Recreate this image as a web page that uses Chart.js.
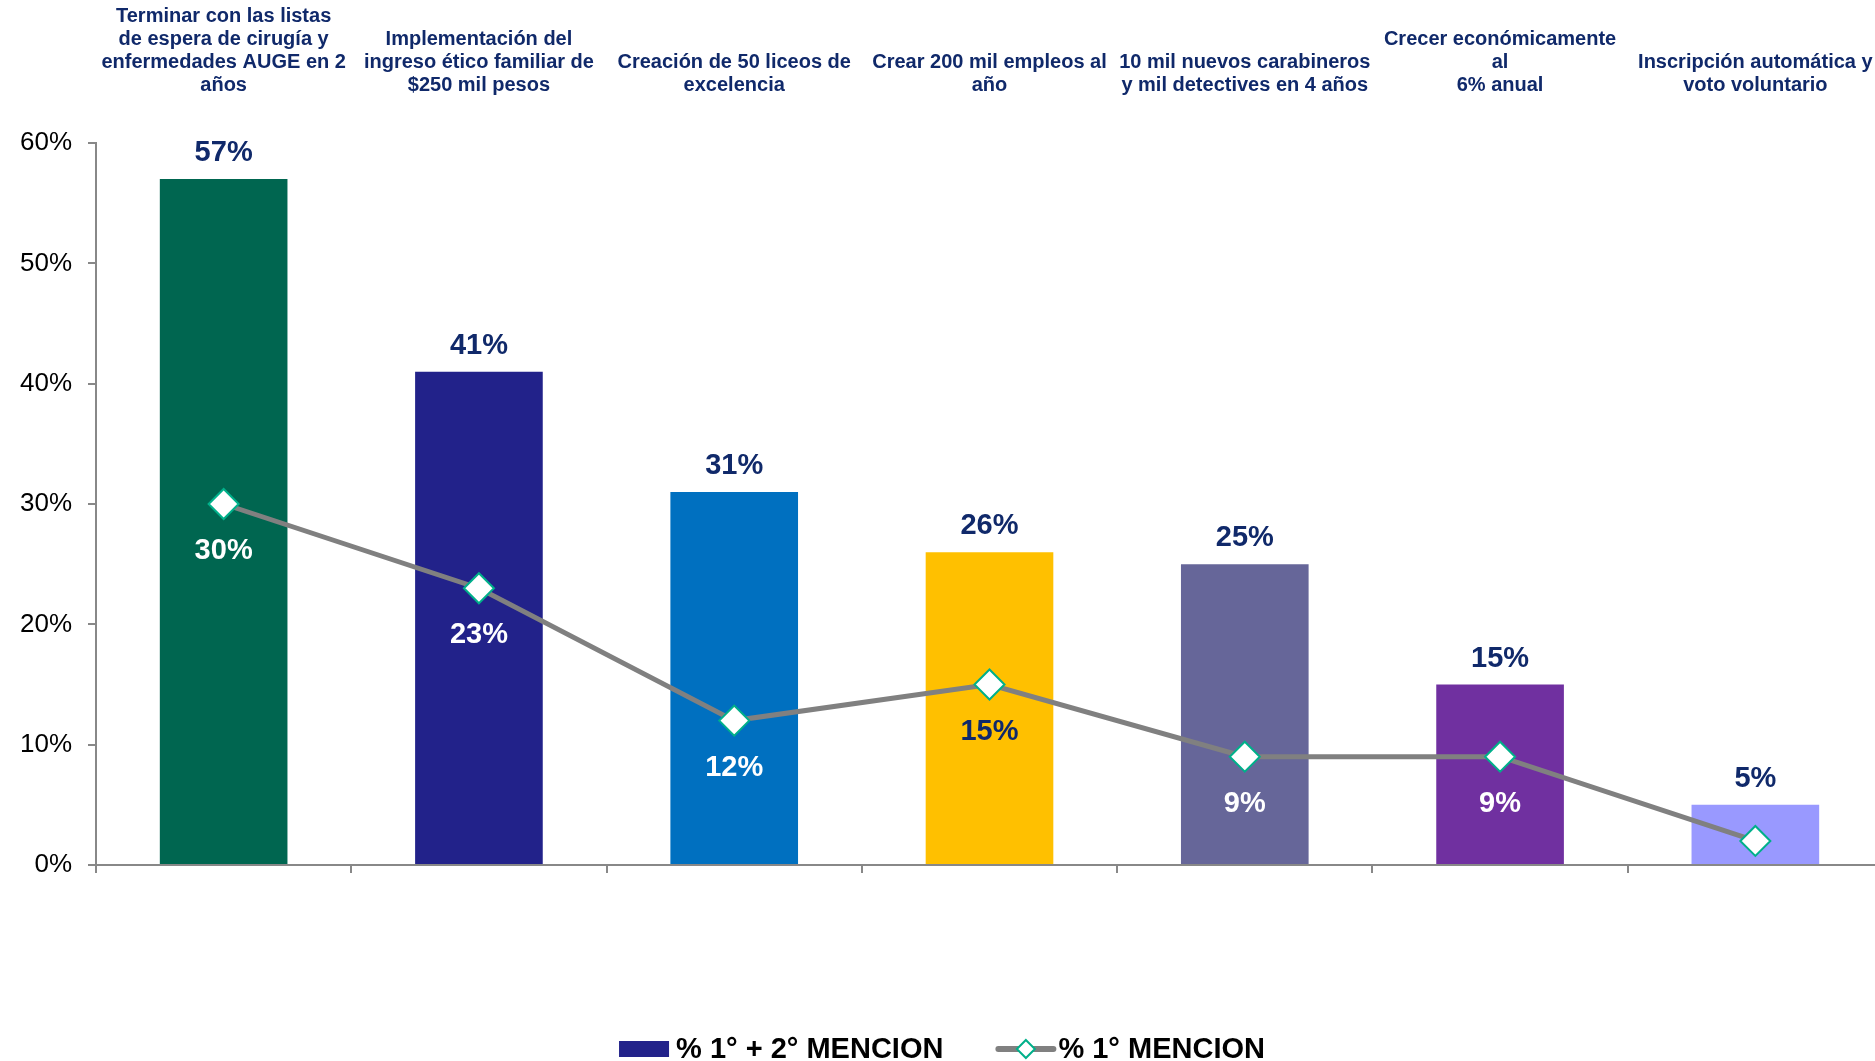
<!DOCTYPE html>
<html>
<head>
<meta charset="utf-8">
<script src="https://cdn.jsdelivr.net/npm/chart.js@4.4.0/dist/chart.umd.min.js"></script>
<style>
  html, body { margin: 0; padding: 0; background: #fff; overflow: hidden; }
  #wrap { width: 1900px; height: 1061px; position: relative; }
</style>
</head>
<body>
<div id="wrap"><canvas id="chart"></canvas></div>
<script>
// Data
const categories = [
  ['Terminar con las listas', 'de espera de cirugía y', 'enfermedades AUGE en 2', 'años'],
  ['Implementación del', 'ingreso ético familiar de', '$250 mil pesos'],
  ['Creación de 50 liceos de', 'excelencia'],
  ['Crear 200 mil empleos al', 'año'],
  ['10 mil nuevos carabineros', 'y mil detectives en 4 años'],
  ['Crecer económicamente', 'al', '6% anual'],
  ['Inscripción automática y', 'voto voluntario']
];
const mention12 = [57, 41, 31, 26, 25, 15, 5];
const mention1 = [30, 23, 12, 15, 9, 9, 2];
const mention1Labels = ['30%', '23%', '12%', '15%', '9%', '9%', ''];
const yTicks = [0, 10, 20, 30, 40, 50, 60];
const seriesNames = ['% 1° + 2° MENCION', '% 1° MENCION'];

const barColors = ['#006650', '#22228A', '#0070C0', '#FFC000', '#666699', '#7030A0', '#9999FF'];
const navy = '#10296A';
const narrow = '"Liberation Sans Narrow", "Arial Narrow", "Liberation Sans", Arial, sans-serif';
const sans = '"Liberation Sans", Arial, sans-serif';

// draws category titles above the plot, value labels and the legend
const decorPlugin = {
  id: 'decor',
  afterDatasetsDraw(chart) {
    const ctx = chart.ctx;
    const xs = chart.scales.x;
    ctx.save();

    // category titles on top
    ctx.font = 'bold 20px ' + narrow;
    ctx.fillStyle = navy;
    ctx.textAlign = 'center';
    ctx.textBaseline = 'middle';
    categories.forEach((lines, i) => {
      const x = xs.getPixelForValue(i);
      const n = lines.length;
      lines.forEach((t, j) => {
        ctx.fillText(t, x, 85 - (n - 1 - j) * 22.7);
      });
    });

    // bar values
    ctx.font = 'bold 29px ' + sans;
    const barMeta = chart.getDatasetMeta(0);
    barMeta.data.forEach((bar, i) => {
      ctx.fillStyle = navy;
      ctx.fillText(mention12[i] + '%', bar.x, bar.y - 26);
    });

    // line values (white, under the point)
    const lineMeta = chart.getDatasetMeta(1);
    lineMeta.data.forEach((pt, i) => {
      ctx.fillStyle = i === 3 ? navy : '#fff';
      ctx.fillText(mention1Labels[i], pt.x, pt.y + 47);
    });

    // legend
    const ly = 1049;
    ctx.font = 'bold 29px ' + narrow;
    ctx.textAlign = 'left';
    const w1 = ctx.measureText(seriesNames[0]).width;
    const w2 = ctx.measureText(seriesNames[1]).width;
    const total = 50 + 7 + w1 + 55 + 55 + 5 + w2;
    let x = 942 - total / 2;
    ctx.fillStyle = '#22228A';
    ctx.fillRect(x, ly - 8, 50, 16);
    x += 57;
    ctx.fillStyle = '#000';
    ctx.fillText(seriesNames[0], x, ly + 1);
    x += w1 + 55;
    ctx.strokeStyle = '#808080';
    ctx.lineWidth = 6;
    ctx.lineCap = 'round';
    ctx.beginPath();
    ctx.moveTo(x, ly);
    ctx.lineTo(x + 55, ly);
    ctx.stroke();
    ctx.beginPath();
    const cx = x + 27.5, r = 9;
    ctx.moveTo(cx, ly - r); ctx.lineTo(cx + r, ly); ctx.lineTo(cx, ly + r); ctx.lineTo(cx - r, ly); ctx.closePath();
    ctx.fillStyle = '#fff';
    ctx.fill();
    ctx.lineWidth = 2;
    ctx.strokeStyle = '#00B08A';
    ctx.stroke();
    x += 60;
    ctx.fillStyle = '#000';
    ctx.fillText(seriesNames[1], x, ly + 1);

    ctx.restore();
  }
};

new Chart(document.getElementById('chart'), {
  type: 'bar',
  data: {
    labels: categories.map(c => c.join(' ')),
    datasets: [
      {
        type: 'bar',
        label: seriesNames[0],
        data: mention12,
        backgroundColor: barColors,
        categoryPercentage: 1,
        barPercentage: 0.5,
        order: 2
      },
      {
        type: 'line',
        label: seriesNames[1],
        data: mention1,
        borderColor: '#808080',
        borderWidth: 5,
        pointStyle: 'rectRot',
        pointRadius: 15,
        pointHoverRadius: 15,
        pointBackgroundColor: '#fff',
        pointBorderColor: '#00B08A',
        pointBorderWidth: 2,
        tension: 0,
        order: 1
      }
    ]
  },
  options: {
    responsive: true,
    maintainAspectRatio: false,
    animation: false,
    layout: { padding: { top: 143, right: 0, left: 0, bottom: 0 } },
    plugins: {
      legend: { display: false },
      tooltip: { enabled: false }
    },
    scales: {
      x: {
        offset: true,
        ticks: { display: false },
        border: { color: '#888', width: 2 },
        grid: { offset: true, drawOnChartArea: false, tickLength: 8, color: '#888', lineWidth: 2 },
        afterFit(scale) { scale.height = 196; }
      },
      y: {
        min: 0,
        max: 60,
        afterBuildTicks(scale) { scale.ticks = yTicks.map(v => ({ value: v })); },
        ticks: {
          padding: 16,
          color: '#000',
          font: { family: sans, size: 26 },
          callback: v => v + '%'
        },
        border: { color: '#888', width: 2 },
        grid: { drawOnChartArea: false, tickLength: 8, color: '#888', lineWidth: 2 },
        afterFit(scale) { scale.width = 96; }
      }
    }
  },
  plugins: [decorPlugin]
});
</script>
</body>
</html>
